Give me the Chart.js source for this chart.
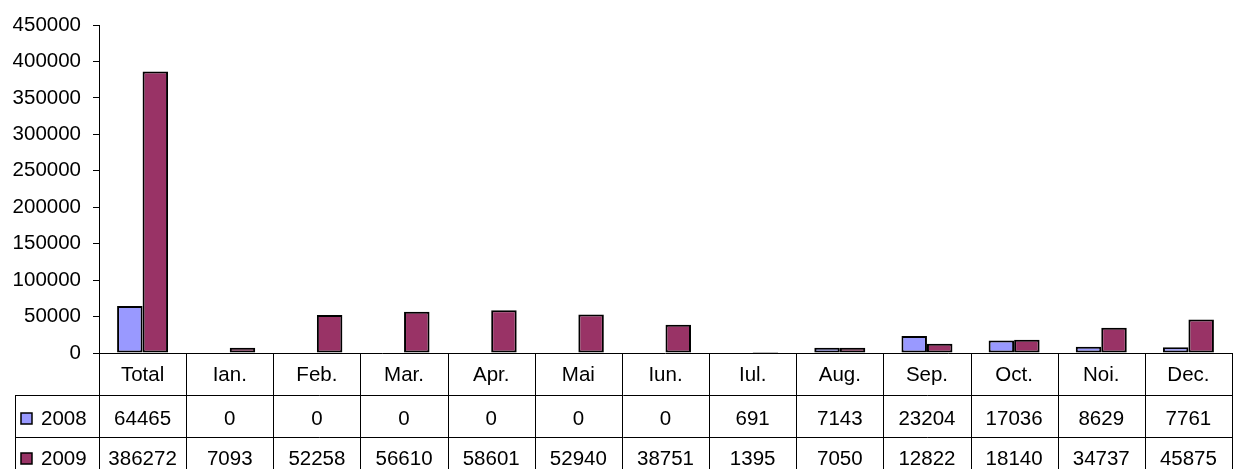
<!DOCTYPE html>
<html>
<head>
<meta charset="utf-8">
<script src="https://cdn.jsdelivr.net/npm/chart.js@4/dist/chart.umd.min.js"></script>
<style>
  html, body { margin: 0; padding: 0; background: #ffffff; }
  #wrap { width: 1233px; height: 469px; }
</style>
</head>
<body>
<div id="wrap"><canvas id="chart"></canvas></div>
<script>
const categories = ["Total", "Ian.", "Feb.", "Mar.", "Apr.", "Mai", "Iun.", "Iul.", "Aug.", "Sep.", "Oct.", "Noi.", "Dec."];
const seriesNames = ["2008", "2009"];
const values2008 = [64465, 0, 0, 0, 0, 0, 0, 691, 7143, 23204, 17036, 8629, 7761];
const values2009 = [386272, 7093, 52258, 56610, 58601, 52940, 38751, 1395, 7050, 12822, 18140, 34737, 45875];
const seriesColors = ["#9999ff", "#993366"];

const FAMILY = "'Liberation Sans', Arial, sans-serif";
const FONT = "20.5px " + FAMILY;

// draws the data table under the plot, columns follow the x scale
const dataTable = {
    id: "dataTable",
    afterDraw(chart) {
        const ctx = chart.ctx;
        const x = chart.scales.x;
        const area = chart.chartArea;
        const step = (area.right - area.left) / categories.length;
        const top = area.bottom;
        const row1 = 395, row2 = 437, bottom = chart.height;
        const leftEdge = 15;

        ctx.save();
        ctx.strokeStyle = "#000";
        ctx.lineWidth = 1;
        ctx.beginPath();
        ctx.moveTo(area.left, top + 0.5);
        ctx.lineTo(area.right, top + 0.5);
        ctx.moveTo(leftEdge, row1 + 0.5);
        ctx.lineTo(area.right, row1 + 0.5);
        ctx.moveTo(leftEdge, row2 + 0.5);
        ctx.lineTo(area.right, row2 + 0.5);
        ctx.moveTo(leftEdge + 0.5, row1);
        ctx.lineTo(leftEdge + 0.5, bottom);
        for (let i = 0; i <= categories.length; i++) {
            const bx = Math.round(x.getPixelForValue(i) - step / 2) + 0.5;
            ctx.moveTo(bx, top);
            ctx.lineTo(bx, bottom);
        }
        ctx.stroke();

        ctx.fillStyle = "#000";
        ctx.font = FONT;
        ctx.textAlign = "center";
        ctx.textBaseline = "middle";
        const rows = [values2008, values2009];
        const rowMid = [419, 459];
        categories.forEach((c, i) => {
            const cx = x.getPixelForValue(i);
            ctx.fillText(c, cx, 375);
            rows.forEach((r, j) => ctx.fillText(String(r[i]), cx, rowMid[j]));
        });

        // legend keys in the row headers
        seriesNames.forEach((name, j) => {
            ctx.fillStyle = seriesColors[j];
            ctx.fillRect(21, rowMid[j] - 6, 11, 11);
            ctx.strokeStyle = "#000";
            ctx.lineWidth = 1.5;
            ctx.strokeRect(21, rowMid[j] - 6, 11, 11);
            ctx.fillStyle = "#000";
            ctx.textAlign = "left";
            ctx.fillText(name, 41, rowMid[j]);
        });
        ctx.restore();
    }
};

new Chart(document.getElementById("chart"), {
    type: "bar",
    data: {
        labels: categories,
        datasets: [
            { label: seriesNames[0], data: values2008, backgroundColor: seriesColors[0], borderColor: "#000", borderWidth: 2, borderSkipped: false },
            { label: seriesNames[1], data: values2009, backgroundColor: seriesColors[1], borderColor: "#000", borderWidth: 2, borderSkipped: false }
        ]
    },
    options: {
        responsive: true,
        maintainAspectRatio: false,
        animation: false,
        datasets: { bar: { categoryPercentage: 0.585, barPercentage: 1 } },
        layout: { padding: { top: 25, right: 1, bottom: 116, left: 0 } },
        plugins: { legend: { display: false }, tooltip: { enabled: false } },
        scales: {
            x: { display: false },
            y: {
                min: 0,
                max: 450000,
                ticks: {
                    stepSize: 50000,
                    color: "#000",
                    padding: 12,
                    font: { family: FAMILY, size: 20.5 },
                    callback: v => String(v)
                },
                grid: { drawOnChartArea: false, drawTicks: true, tickLength: 6, color: "#000" },
                border: { display: true, color: "#000" },
                afterFit(scale) { scale.width = 99; }
            }
        }
    },
    plugins: [dataTable]
});
</script>
</body>
</html>
